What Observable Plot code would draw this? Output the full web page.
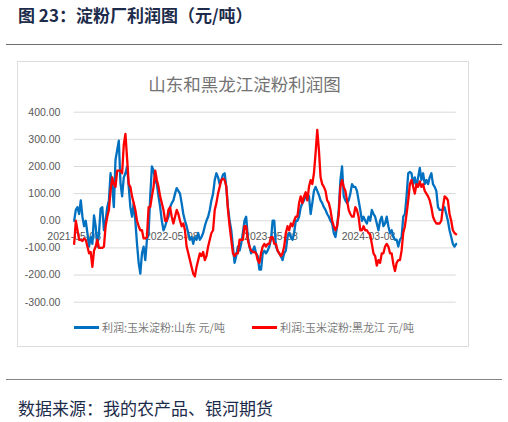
<!DOCTYPE html>
<html>
<head>
<meta charset="utf-8">
<script src="https://cdn.jsdelivr.net/npm/d3@7"></script>
<script src="https://cdn.jsdelivr.net/npm/@observablehq/plot@0.6"></script>
<style>
  html, body { margin: 0; padding: 0; background: #fff; }
  #page { position: relative; width: 508px; height: 422px; overflow: hidden; background: #fff; font-family: "Noto Sans CJK SC", sans-serif; }
  .abs { position: absolute; }
  #header { left: 18px; top: 4px; font-size: 17px; line-height: 21px; font-weight: 700; color: #1d2b4b; white-space: nowrap; }
  .hline { left: 6px; width: 496px; height: 1px; background: #6f6f6f; }
  #box { left: 17px; top: 61px; width: 452px; height: 286px; border: 1px solid #dcdcdc; box-sizing: border-box; }
  #ctitle { left: 17px; width: 455px; top: 72px; text-align: center; font-size: 17.5px; line-height: 23px; color: #737373; white-space: nowrap; }
  #chart { left: 0; top: 100px; }
  .sw { height: 2.5px; width: 25px; top: 326px; }
  .lt { top: 319px; font-size: 11px; line-height: 16px; color: #7a7a7a; white-space: nowrap; }
  #footer { left: 18px; top: 397px; font-size: 17px; line-height: 22px; color: #1d2b4b; white-space: nowrap; }
</style>
</head>
<body>
<div id="page">
  <div id="header" class="abs">图 23：淀粉厂利润图（元/吨）</div>
  <div class="abs hline" style="top:43.5px"></div>
  <div id="box" class="abs"></div>
  <div id="ctitle" class="abs">山东和黑龙江淀粉利润图</div>
  <div id="chart" class="abs"></div>
  <div class="abs sw" style="left:74px;background:#0070C0"></div>
  <div class="abs lt" style="left:102px">利润:玉米淀粉:山东 元/吨</div>
  <div class="abs sw" style="left:252px;background:#FF0000"></div>
  <div class="abs lt" style="left:280px">利润:玉米淀粉:黑龙江 元/吨</div>
  <div class="abs hline" style="top:379px;background:#858585"></div>
  <div id="footer" class="abs">数据来源：我的农产品、银河期货</div>
</div>
<script>
const yTicks = [400, 300, 200, 100, 0, -100, -200, -300];
const tickLabels = ["2021-05-08", "2022-05-08", "2023-05-08", "2024-03-08"];
const tickIdx = [0, 59, 119, 178];

// 利润:玉米淀粉:山东 元/吨
const shandong = [
  0, 40, 50, 25, 75, 15, -20, 0, -45, -95,
  -60, -85, 20, -20, -95, -45, 45, 50, -35, 0,
  50, 75, 175, 125, 50, 225, 260, 295, 140, 90,
  160, 175, 200, 125, 50, 15, 65, 0, -85, -155,
  -195, -120, -95, -145, -70, -45, 90, 200, 185, 150,
  135, 90, 50, 0, -35, -20,
  0, 15, 50, 65, 75, 100, 120, 110, 100, 65,
  25, 0, -20, -45, -70, -60, -85, -60, -70, -45,
  -70, -60, -45, -20, 0, 15, 40, 75, 100, 150,
  175, 160, 135, 150, 170, 175, 125, 50, 0, -35,
  -95, -155, -130, -95, -110, -85, -45, 0, 15, -60,
  -95, -120, -110, -95, -120, -130, -180,
  -180, -120, -110, -120, -110, -95, -70, 0, 0, -95,
  -110, -120, -130, -145, -120, -110, -60, -45, -60, -70,
  -45, 0, 0, 15, 50, 65, 75, 90, 100, 90,
  25, 65, 110, 125, 110, 95, 75, 65, 50, 40,
  25, 15, 0, -10, -45, -60, -20, 40, 150, 200,
  90, 75, 65, 75, 100, 135, 125,
  125, 110, 75, 40, 0, 15, 0, -10, 15, 0,
  40, 25, 15, -10, -35, 0, 15, -20, -10, 15,
  -20, -45, -35, -60, -70, -70, -95, -70, -60, 15,
  25, 90, 175, 180, 175, 135, 160, 125, 160, 195,
  150, 175, 135, 150, 135, 160, 175, 135, 125, 110,
  50, 40, 40, 40, 50, 25, 0, -35, -60, -85,
  -95, -85
];

// 利润:玉米淀粉:黑龙江 元/吨
const heilongjiang = [
  -85, 0, -35, -70, -70, -75, -65, -70, -95, -120,
  -115, -170, -110, -95, -70, -100, -100, -100, -95, -20,
  15, 40, 110, 160, 135, 125, 185, 185, 185, 175,
  280, 320, 230, 135, 125, 90, 65, 40, 0, -20,
  -35, -35, -65, -65, -60, 50, 50, 90, 125, 185,
  150, 125, 90, 65, 40, 0,
  0, 40, 50, 15, -10, 15, 40, 25, 0, -20,
  -10, -35, -95, -120, -145, -170, -195, -205, -170, -145,
  -120, -130, -115, -145, -130, -95, -70, -45, -35, 40,
  65, 100, 125, 150, 155, 150, 125, 40, -20, -70,
  -120, -130, -120, -120, -70, -70, -70, -20, -20, -70,
  -95, -110, -115, -115, -120, -145, -155,
  -120, -95, -85, -95, -85, -85, -60, -60, -85, -85,
  -110, -120, -130, -120, -95, -45, -20, -35, -10, -20,
  0, 15, 15, 65, 90, 65, 90, 105, 75, 125,
  150, 135, 175, 250, 335, 260, 160, 135, 125, 110,
  75, 65, 40, 0, -20, -35, -20, 25, 125, 150,
  125, 110, 75, 40, 25, 15, 15,
  50, 40, 15, -35, -35, -20, -35, -35, -45, -50,
  -85, -120, -130, -165, -145, -155, -120, -120, -95, -85,
  -95, -120, -120, -160, -185, -155, -145, -145, -110, -45,
  -20, 25, 75, 135, 150, 125, 100, 135, 125, 145,
  125, 135, 110, 100, 90, 75, 50, 15, 0, -10,
  -10, -10, 0, 50, 90, 85, 75, 25, 0, -35,
  -45, -50
];

const sd = shandong.map((v, i) => ({i, v}));
const hlj = heilongjiang.map((v, i) => ({i, v}));
const n = shandong.length - 1;

const chart = Plot.plot({
  width: 508,
  height: 215,
  marginLeft: 73.67,
  marginRight: 52.33,
  marginTop: 11.7,
  marginBottom: 13.3,
  x: {domain: [0, n], axis: null},
  y: {domain: [-300, 400]},
  style: {background: "transparent", fontFamily: "Liberation Sans, sans-serif", fontSize: "10.5px", color: "#595959", overflow: "visible"},
  marks: [
    Plot.ruleY(yTicks, {stroke: "#d9d9d9", strokeWidth: 1}),
    Plot.axisY(yTicks, {tickSize: 0, tickPadding: 13.7, tickFormat: d => d.toFixed(2), fontSize: 10.5, fill: "#595959", label: null}),
    Plot.text(tickIdx, {x: d => d, y: () => 0, text: (d, i) => tickLabels[i], dy: 16, fill: "#595959", fontSize: 10.5}),
    Plot.line(sd, {x: "i", y: "v", stroke: "#0070C0", strokeWidth: 2.3, strokeLinejoin: "round"}),
    Plot.line(hlj, {x: "i", y: "v", stroke: "#FF0000", strokeWidth: 2.3, strokeLinejoin: "round"})
  ]
});
document.getElementById("chart").appendChild(chart);
</script>
</body>
</html>
